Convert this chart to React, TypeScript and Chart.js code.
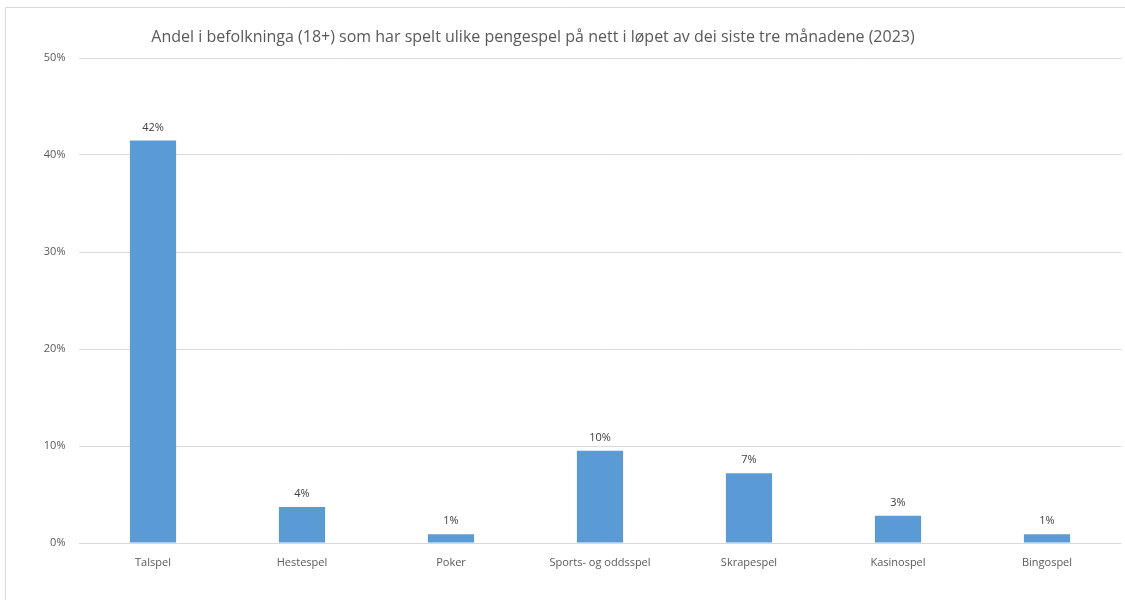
import React, { useEffect, useRef } from "react";
import { Chart, registerables } from "chart.js";

Chart.register(...registerables);

const TITLE = "Andel i befolkninga (18+) som har spelt ulike pengespel på nett i løpet av dei siste tre månadene (2023)";
const categories = ["Talspel", "Hestespel", "Poker", "Sports- og oddsspel", "Skrapespel", "Kasinospel", "Bingospel"];
const values = [41.5, 3.7, 0.9, 9.5, 7.2, 2.8, 0.9];
const yTicks = [0, 10, 20, 30, 40, 50];

const FONT = "'Open Sans', 'Liberation Sans', sans-serif";
const TEXT = "#595959";

const decor = {
  id: "decor",
  beforeDraw(chart: any) {
    const ctx = chart.ctx;
    ctx.save();
    ctx.fillStyle = "#ffffff";
    ctx.fillRect(0, 0, chart.width, chart.height);
    ctx.strokeStyle = "#d9d9d9";
    ctx.lineWidth = 1;
    ctx.beginPath();
    ctx.moveTo(5.5, chart.height);
    ctx.lineTo(5.5, 7.5);
    ctx.lineTo(chart.width, 7.5);
    ctx.stroke();
    ctx.fillStyle = TEXT;
    ctx.font = `16px ${FONT}`;
    ctx.textAlign = "center";
    ctx.textBaseline = "middle";
    ctx.fillText(TITLE, 533, 37);
    ctx.restore();
  },
  afterDatasetsDraw(chart: any) {
    const ctx = chart.ctx;
    const meta = chart.getDatasetMeta(0);
    ctx.save();
    ctx.fillStyle = "#404040";
    ctx.font = `11px ${FONT}`;
    ctx.textAlign = "center";
    ctx.textBaseline = "middle";
    meta.data.forEach((bar: any, i: number) => {
      ctx.fillText(Math.round(values[i]) + "%", bar.x, bar.y - 13);
    });
    ctx.restore();
  },
};

export default function App() {
  const ref = useRef<HTMLCanvasElement>(null);
  useEffect(() => {
    document.body.style.margin = "0";
    const chart = new Chart(ref.current!, {
      type: "bar",
      data: {
        labels: categories,
        datasets: [
          {
            data: values,
            backgroundColor: "#5B9BD5",
            categoryPercentage: 1,
            barPercentage: 0.31,
          },
        ],
      },
      plugins: [decor],
      options: {
        animation: false,
        responsive: false,
        layout: { padding: { top: 58, right: 3.5, left: 0, bottom: 0 } },
        plugins: { legend: { display: false }, tooltip: { enabled: false }, title: { display: false } },
        scales: {
          x: {
            grid: { display: false, drawTicks: false },
            border: { display: false },
            ticks: { color: TEXT, font: { family: FONT, size: 11 }, padding: 13, maxRotation: 0 },
            afterFit: (s: any) => {
              s.height = 57;
            },
          },
          y: {
            min: 0,
            max: 50,
            afterBuildTicks: (s: any) => {
              s.ticks = yTicks.map((v) => ({ value: v }));
            },
            grid: { color: "#d9d9d9", drawTicks: false },
            border: { display: false },
            ticks: {
              color: TEXT,
              font: { family: FONT, size: 11 },
              padding: 13,
              callback: (v: any) => v + "%",
            },
            afterFit: (s: any) => {
              s.width = 78.5;
            },
          },
        },
      },
    });
    return () => chart.destroy();
  }, []);
  return <canvas ref={ref} width={1125} height={600} style={{ display: "block" }} />;
}
